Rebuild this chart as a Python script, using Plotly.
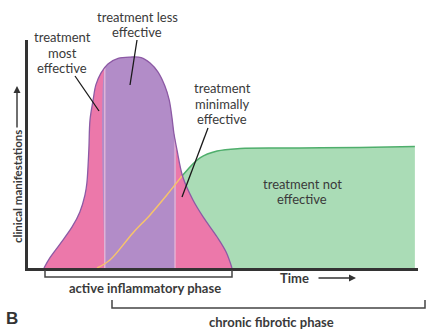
import plotly.graph_objects as go

# ---- data (time units 0-100, clinical level 0-100) ----
bell_t = [4.1, 5.6, 8.2, 11.3, 13.3, 14.6, 15.1, 15.6, 15.9, 16.7, 17.4, 18.7, 20.5, 23.1, 26.2,
          29.0, 31.3, 33.3, 35.1, 36.2, 36.9, 37.4, 38.2, 39.7, 42.3, 44.9, 48.5, 50.8, 52.3]
bell_v = [0.0, 4.4, 10.5, 18.0, 24.6, 32.0, 37.3, 51.8, 64.9, 73.7, 80.3, 85.5, 89.5, 91.9, 92.5,
          92.3, 89.9, 86.0, 79.8, 73.7, 66.2, 59.2, 51.8, 39.9, 29.8, 22.4, 13.6, 7.0, 0.0]

# boundaries between treatment zones
zone_left = 19.7     # end of "most effective"
zone_right = 37.7    # end of "less effective"
zone_left_v = 87.7
zone_right_v = 56.6

fib_t = [17.7, 21.0, 26.9, 31.3, 35.4, 39.5, 44.1, 48.5, 54.4, 69.7, 85.1, 99.2]
fib_v = [0.0, 3.5, 15.4, 23.3, 31.6, 40.4, 48.3, 51.3, 52.4, 52.6, 52.9, 53.3]
fib_inside = 6  # first points lying under the bell (drawn yellow)

label_most = ["treatment", "most", "effective"]
label_less = ["treatment less", "effective"]
label_minimal = ["treatment", "minimally", "effective"]
label_not = ["treatment not", "effective"]

PINK = "#EC78AA"
PURPLE = "#B28CC8"
OUTLINE = "#8C5AA5"
GREEN_FILL = "#AADCB6"
GREEN_LINE = "#4FAE6C"
YELLOW = "#F7C46A"
TXT = "#3a3a3a"

# plot area in pixels
L, R, T, B = 28, 418, 40, 268
W, H = 436, 333


def px(x, y):
    return (x - L) / (R - L), (B - y) / (B - T)


fig = go.Figure()

# fibrotic curve (green) behind the bell
fig.add_trace(go.Scatter(x=fib_t, y=fib_v, mode="lines", fill="tozeroy",
                         fillcolor=GREEN_FILL, line=dict(color=GREEN_LINE, width=1.5, shape="spline"),
                         hoverinfo="skip"))

# bell filled pink
fig.add_trace(go.Scatter(x=bell_t, y=bell_v, mode="lines", fill="toself", fillcolor=PINK,
                         line=dict(color=PINK, width=0, shape="spline"), hoverinfo="skip"))

# purple middle zone
mid_t = [zone_left, zone_left] + [t for t in bell_t if zone_left < t < zone_right] + [zone_right, zone_right]
mid_v = [0, zone_left_v] + [v for t, v in zip(bell_t, bell_v) if zone_left < t < zone_right] + [zone_right_v, 0]
fig.add_trace(go.Scatter(x=mid_t, y=mid_v, mode="lines", fill="toself", fillcolor=PURPLE,
                         line=dict(color=PURPLE, width=0, shape="spline"), hoverinfo="skip"))

# light boundary lines
for zt, zv in ((zone_left, zone_left_v), (zone_right, zone_right_v)):
    fig.add_trace(go.Scatter(x=[zt, zt], y=[0, zv], mode="lines",
                             line=dict(color="#F4C6DE", width=1), hoverinfo="skip"))

# yellow portion of fibrotic curve over the bell
fig.add_trace(go.Scatter(x=fib_t[:fib_inside], y=fib_v[:fib_inside], mode="lines",
                         line=dict(color=YELLOW, width=1.5, shape="spline"), hoverinfo="skip"))

# bell outline
fig.add_trace(go.Scatter(x=bell_t, y=bell_v, mode="lines",
                         line=dict(color=OUTLINE, width=1.3, shape="spline"), hoverinfo="skip"))

shapes = []


def seg(x0, y0, x1, y1, color="#1a1a1a", width=1.3):
    a = px(x0, y0)
    b = px(x1, y1)
    shapes.append(dict(type="line", xref="paper", yref="paper", x0=a[0], y0=a[1], x1=b[0], y1=b[1],
                       line=dict(color=color, width=width)))


def bracket(x0, x1, ytop, ybot):
    pts = [px(x0, ytop), px(x0, ybot), px(x1, ybot), px(x1, ytop)]
    path = "M " + " L ".join(f"{p[0]:.5f},{p[1]:.5f}" for p in pts)
    shapes.append(dict(type="path", xref="paper", yref="paper", path=path,
                       line=dict(color="#444444", width=1.5)))


# pointer lines
seg(75, 76, 99, 111)
seg(137, 40, 130, 85)
seg(208, 128, 182, 197)

bracket(45, 232, 270, 277)
bracket(112, 425, 300, 308)

annotations = []


def text(x, y, s, size=13, bold=False, color=TXT, family="Lato", angle=0):
    p = px(x, y)
    annotations.append(dict(xref="paper", yref="paper", x=p[0], y=p[1], text=(f"<b>{s}</b>" if bold else s),
                            showarrow=False, xanchor="center", yanchor="middle", textangle=angle,
                            font=dict(size=size, color=color, family=family)))


def lines(x, y0, arr, step=15.5):
    for i, s in enumerate(arr):
        text(x, y0 + i * step, s)


lines(62, 37, label_most)
lines(137, 17, label_less)
lines(222, 88, label_minimal)
lines(302, 184, label_not, step=14.5)
text(17, 187, "clinical manifestations", size=11.5, bold=True, angle=-90)
text(294, 278, "Time", size=13, bold=True)
text(145, 288, "active inflammatory phase", size=13, bold=True)
text(271, 322, "chronic fibrotic phase", size=13, bold=True)
text(12, 318, "B", size=17, bold=True, color="#333333", family="Liberation Sans")

# arrows
for head, tail in (((17, 86), (17, 129)), ((356, 278), (317, 278))):
    h = px(*head)
    annotations.append(dict(xref="paper", yref="paper", x=h[0], y=h[1], text="", showarrow=True,
                            ax=tail[0] - head[0], ay=tail[1] - head[1], axref="pixel", ayref="pixel",
                            arrowhead=2, arrowsize=1, arrowwidth=1.4, arrowcolor="#333333"))

fig.update_layout(
    width=W, height=H,
    margin=dict(l=L, r=W - R, t=T, b=H - B),
    paper_bgcolor="white", plot_bgcolor="white",
    showlegend=False,
    xaxis=dict(range=[0, 100], showline=True, linecolor="#333333", linewidth=2.5, showgrid=False,
               zeroline=False, showticklabels=False, ticks="", fixedrange=True),
    yaxis=dict(range=[0, 100], showline=True, linecolor="#333333", linewidth=2.5, showgrid=False,
               zeroline=False, showticklabels=False, ticks="", fixedrange=True),
    shapes=shapes,
    annotations=annotations,
)

fig.write_html("out.html")
